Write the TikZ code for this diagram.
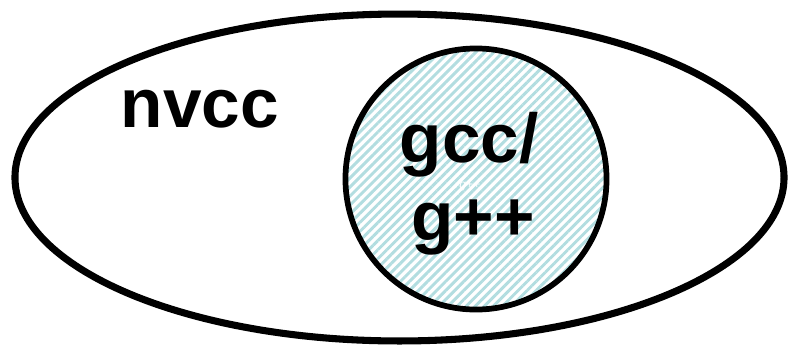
\documentclass[tikz,border=0pt]{standalone}
\usepackage{fontspec}
\setmainfont{Liberation Sans}
\usetikzlibrary{patterns.meta}
\definecolor{hatchblue}{RGB}{178,221,224}
\tikzset{
  label text/.style={font=\fontsize{52}{58}\selectfont\bfseries, inner sep=0pt, anchor=base},
  ghost text/.style={font=\fontsize{9}{10}\selectfont\itshape, text=white, inner sep=0pt}
}
\begin{document}
\begin{tikzpicture}[x=0.75pt,y=-0.75pt]

\useasboundingbox (0,0) rectangle (789,347);

%insiemi

\begin{scope}
\coordinate (o) at (399.5,177.5);
\coordinate (c) at (476,179);

\draw[line width=5.3pt] (o) ellipse [x radius=288.4pt, y radius=122.6pt];

\fill[pattern={Lines[angle=45,distance=4.8pt,line width=2.2pt]}, pattern color=hatchblue]
  (c) circle [radius=97.9pt];
\draw[line width=4.3pt] (c) circle [radius=97.9pt];

\node[label text] (nvcc) at (200,127) {nvcc};
\node[label text] (gcc) at (469,162) {gcc/};
\node[label text] (gpp) at (473,240) {g++};
\node[ghost text] (ghost) at (468,185) {/g++};

\end{scope}

\end{tikzpicture}
\end{document}
